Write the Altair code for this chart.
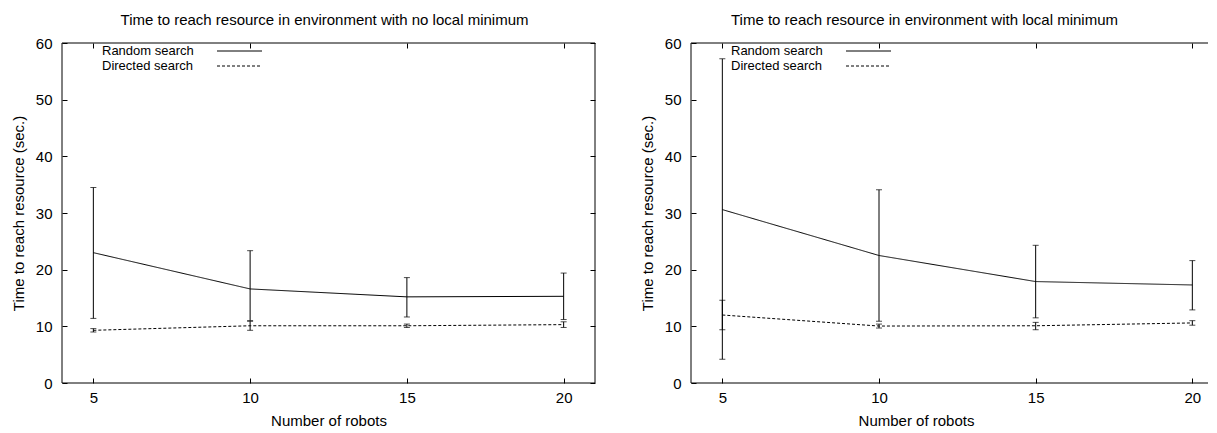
import altair as alt
import pandas as pd

FONT = "Liberation Sans"

robots = [5, 10, 15, 20]
series_names = ["Random search", "Directed search"]
x_tick_values = [5, 10, 15, 20]
y_tick_values = [0, 10, 20, 30, 40, 50, 60]

panel_titles = [
    "Time to reach resource in environment with no local minimum",
    "Time to reach resource in environment with local minimum",
]
x_title = "Number of robots"
y_title = "Time to reach resource (sec.)"

# Panel 1: no local minimum
nolocal_random_mean = [23.0, 16.6, 15.2, 15.3]
nolocal_random_low = [11.4, 11.0, 11.65, 11.2]
nolocal_random_high = [34.5, 23.35, 18.6, 19.4]
nolocal_directed_mean = [9.3, 10.1, 10.1, 10.3]
nolocal_directed_low = [9.0, 9.3, 9.8, 9.8]
nolocal_directed_high = [9.6, 10.9, 10.4, 10.8]

# Panel 2: local minimum
local_random_mean = [30.6, 22.5, 17.9, 17.3]
local_random_low = [4.2, 10.9, 11.5, 12.9]
local_random_high = [57.2, 34.1, 24.3, 21.6]
local_directed_mean = [12.0, 10.05, 10.1, 10.6]
local_directed_low = [9.4, 9.7, 9.4, 10.2]
local_directed_high = [14.6, 10.4, 10.7, 11.0]


def build_df(rm, rl, rh, dm, dl, dh):
    rows = []
    for i, r in enumerate(robots):
        rows.append(dict(robots=r, series=series_names[0], mean=rm[i], low=rl[i], high=rh[i]))
    for i, r in enumerate(robots):
        rows.append(dict(robots=r, series=series_names[1], mean=dm[i], low=dl[i], high=dh[i]))
    return pd.DataFrame(rows)


df_nolocal = build_df(nolocal_random_mean, nolocal_random_low, nolocal_random_high,
                      nolocal_directed_mean, nolocal_directed_low, nolocal_directed_high)
df_local = build_df(local_random_mean, local_random_low, local_random_high,
                    local_directed_mean, local_directed_low, local_directed_high)

H = 340
one = pd.DataFrame({"k": [0]})


def panel(d, title, title_dx, width, xmax, right_border, xtitle_x=None):
    xs = alt.Scale(domain=[4, xmax], nice=False, zero=False)
    ys = alt.Scale(domain=[0, 60], nice=False, zero=False)
    xaxis_kw = dict(orient="bottom", values=x_tick_values, offset=-5, tickSize=5,
                    domain=False, grid=False, labelPadding=7, title=x_title,
                    titlePadding=8, tickColor="black", tickWidth=1)
    if xtitle_x is not None:
        xaxis_kw["titleX"] = xtitle_x
    xaxis = alt.Axis(**xaxis_kw)
    yaxis = alt.Axis(orient="left", values=y_tick_values, offset=-5, tickSize=5,
                     domain=False, grid=False, labelPadding=10, title=y_title,
                     titlePadding=9, tickColor="black", tickWidth=1)

    lines = alt.Chart(d).mark_line(color="black", strokeWidth=1).encode(
        x=alt.X("robots:Q", scale=xs, axis=xaxis),
        y=alt.Y("mean:Q", scale=ys, axis=yaxis),
        strokeDash=alt.StrokeDash("series:N",
                                  scale=alt.Scale(domain=series_names, range=[[1, 0], [3, 2]]),
                                  legend=None),
        detail="series:N",
    )
    bars = alt.Chart(d).mark_rule(color="black", strokeWidth=1).encode(
        x=alt.X("robots:Q", scale=xs, axis=None),
        y=alt.Y("low:Q", scale=ys, axis=None),
        y2="high:Q",
    )
    caps_lo = alt.Chart(d).mark_tick(orient="horizontal", size=6, thickness=1, color="black").encode(
        x=alt.X("robots:Q", scale=xs, axis=None),
        y=alt.Y("low:Q", scale=ys, axis=None),
    )
    caps_hi = alt.Chart(d).mark_tick(orient="horizontal", size=6, thickness=1, color="black").encode(
        x=alt.X("robots:Q", scale=xs, axis=None),
        y=alt.Y("high:Q", scale=ys, axis=None),
    )
    top_axis = alt.Axis(orient="top", values=x_tick_values, offset=-5, tickSize=5,
                        domain=False, grid=False, labels=False, title=None,
                        tickColor="black", tickWidth=1)
    if right_border:
        right_axis = alt.Axis(orient="right", values=y_tick_values, offset=-5, tickSize=5,
                              domain=False, grid=False, labels=False, title=None,
                              tickColor="black", tickWidth=1)
    else:
        right_axis = None
    mirror = alt.Chart(d).mark_point(opacity=0).encode(
        x=alt.X("robots:Q", scale=xs, axis=top_axis),
        y=alt.Y("mean:Q", scale=ys, axis=right_axis),
    )

    frame = [
        alt.Chart(one).mark_rule(color="black", strokeWidth=1).encode(
            x=alt.value(0), y=alt.value(0), y2=alt.value(H)),
        alt.Chart(one).mark_rule(color="black", strokeWidth=1).encode(
            x=alt.value(0), x2=alt.value(width), y=alt.value(0)),
        alt.Chart(one).mark_rule(color="black", strokeWidth=1).encode(
            x=alt.value(0), x2=alt.value(width), y=alt.value(H)),
    ]
    if right_border:
        frame.append(alt.Chart(one).mark_rule(color="black", strokeWidth=1).encode(
            x=alt.value(width), y=alt.value(0), y2=alt.value(H)))

    legend = []
    for i, name in enumerate(series_names):
        yy = 8 + 15 * i
        legend.append(alt.Chart(one).mark_text(align="left", baseline="middle", fontSize=13,
                                               font=FONT, color="black").encode(
            x=alt.value(40), y=alt.value(yy), text=alt.value(name)))
        legend.append(alt.Chart(one).mark_rule(color="black", strokeWidth=1,
                                               strokeDash=[1, 0] if i == 0 else [3, 2]).encode(
            x=alt.value(155), x2=alt.value(200), y=alt.value(yy)))

    return alt.layer(lines, bars, caps_lo, caps_hi, mirror, *frame, *legend).resolve_axis(
        x="independent", y="independent"
    ).properties(
        width=width, height=H,
        title=alt.Title(title, fontSize=15, font=FONT, fontWeight="normal", color="black",
                        offset=8, dx=title_dx),
    )


left = panel(df_nolocal, panel_titles[0], -4, 533, 21, True)
right = panel(df_local, panel_titles[1], -25, 517, 20.5, False, xtitle_x=225)

chart = alt.hconcat(left, right, spacing=96, bounds="flush").configure_view(
    stroke=None
).configure_axis(
    labelFont=FONT, labelFontSize=15, labelColor="black",
    titleFont=FONT, titleFontSize=15, titleFontWeight="normal", titleColor="black",
).properties(
    padding={"left": 3, "top": 5, "right": 0, "bottom": 0}
)

chart.save("out.html", embed_options={"renderer": "svg", "actions": False})
